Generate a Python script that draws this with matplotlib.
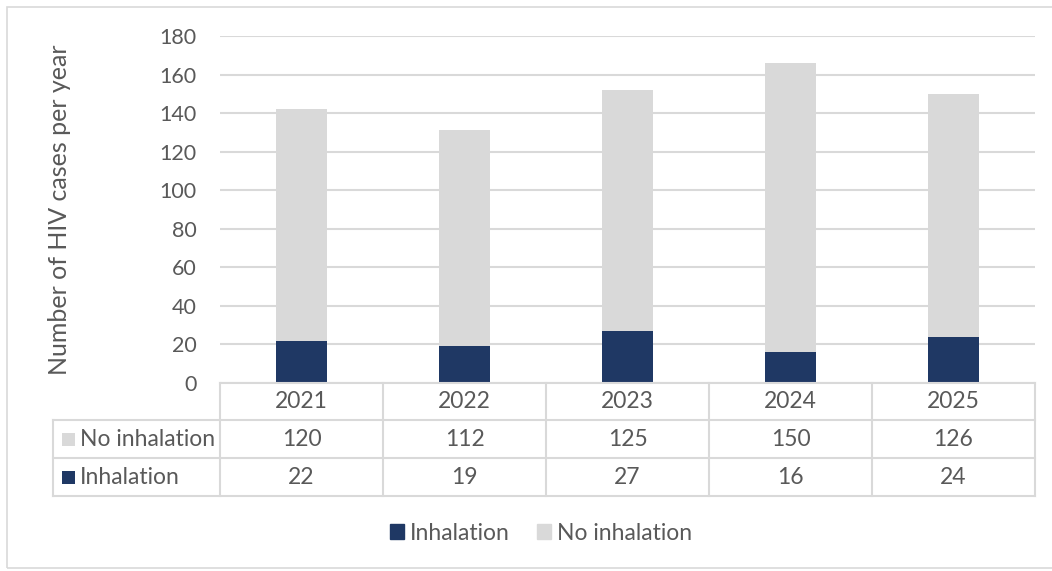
import matplotlib
matplotlib.use("Agg")
import matplotlib.pyplot as plt
from matplotlib.patches import Rectangle
from matplotlib.lines import Line2D

years = ["2021", "2022", "2023", "2024", "2025"]
inhalation = [22, 19, 27, 16, 24]
no_inhalation = [120, 112, 125, 150, 126]
series_names = ["Inhalation", "No inhalation"]
y_ticks = [0, 20, 40, 60, 80, 100, 120, 140, 160, 180]
y_label = "Number of HIV cases per year"

NAVY = "#1F3864"
LIGHT = "#D9D9D9"
GRID = "#D9D9D9"
TEXT = "#595959"
FONT = "Lato"
FS = 16.5

W, H = 1052, 571
fig = plt.figure(figsize=(W / 100, H / 100), dpi=100)
fig.patch.set_facecolor("white")


def fx(px):
    return px / W


def fy(py):
    return 1 - py / H


# outer chart frame
fig.add_artist(Rectangle((fx(7), fy(568)), fx(1060) - fx(7), fy(7) - fy(568),
                         transform=fig.transFigure, fill=False,
                         edgecolor=GRID, linewidth=1.2))

# plot area
x0, x1, ytop, ybot = 220, 1035, 36, 383
ax = fig.add_axes([fx(x0), fy(ybot), fx(x1) - fx(x0), fy(ytop) - fy(ybot)])
n = len(years)
pos = list(range(n))
bw = 51 / ((x1 - x0) / n)
ax.bar(pos, inhalation, width=bw, color=NAVY, zorder=3)
ax.bar(pos, no_inhalation, width=bw, bottom=inhalation, color=LIGHT, zorder=3)
ax.set_xlim(-0.5, n - 0.5)
ax.set_ylim(y_ticks[0], y_ticks[-1])
ax.set_yticks(y_ticks)
ax.set_xticks([])
ax.yaxis.grid(True, color=GRID, linewidth=1.5, zorder=0)
for s in ax.spines.values():
    s.set_visible(False)
ax.tick_params(axis="y", length=0, pad=17, labelsize=15.5, labelcolor=TEXT)
for t in ax.get_yticklabels():
    t.set_fontfamily(FONT)
fig.text(fx(60), fy((ytop + ybot) / 2), y_label, rotation=90, fontsize=18,
         color=TEXT, fontfamily=FONT, ha="center", va="center")

# data table below the axis
row_y = [383, 420, 458, 496]
label_left = 53
col_w = (x1 - x0) / n
lw = 1.5


def hline(y, xa, xb):
    fig.add_artist(Line2D([fx(xa), fx(xb)], [fy(y), fy(y)], color=GRID,
                          linewidth=lw, transform=fig.transFigure))


def vline(x, ya, yb):
    fig.add_artist(Line2D([fx(x), fx(x)], [fy(ya), fy(yb)], color=GRID,
                          linewidth=lw, transform=fig.transFigure))


hline(row_y[0], x0, x1)
for y in row_y[1:]:
    hline(y, label_left, x1)
for i in range(n + 1):
    vline(x0 + i * col_w, row_y[0], row_y[3])
vline(label_left, row_y[1], row_y[3])

tkw = dict(fontsize=FS, color=TEXT, fontfamily=FONT, ha="center",
           va="center", transform=fig.transFigure)
for i, yr in enumerate(years):
    cx = x0 + (i + 0.5) * col_w
    fig.text(fx(cx), fy((row_y[0] + row_y[1]) / 2), yr, **tkw)
    fig.text(fx(cx), fy((row_y[1] + row_y[2]) / 2), str(no_inhalation[i]), **tkw)
    fig.text(fx(cx), fy((row_y[2] + row_y[3]) / 2), str(inhalation[i]), **tkw)

rows = [(series_names[1], LIGHT, row_y[1], row_y[2]),
        (series_names[0], NAVY, row_y[2], row_y[3])]
for name, col, ya, yb in rows:
    cy = (ya + yb) / 2
    fig.add_artist(Rectangle((fx(62), fy(cy + 6.5)), fx(13), fy(0) - fy(13),
                             transform=fig.transFigure, color=col, linewidth=0))
    fig.text(fx(80), fy(cy), name, fontsize=FS, color=TEXT, fontfamily=FONT,
             ha="left", va="center", transform=fig.transFigure)

# legend
handles = [Rectangle((0, 0), 1, 1, color=NAVY), Rectangle((0, 0), 1, 1, color=LIGHT)]
leg = fig.legend(handles, series_names, loc="center", bbox_to_anchor=(fx(541), fy(533)),
                 ncol=2, frameon=False, handlelength=0.6, handleheight=0.6,
                 handletextpad=0.25, columnspacing=1.2,
                 prop={"family": FONT, "size": FS})
for t in leg.get_texts():
    t.set_color(TEXT)

fig.savefig("out.png", dpi=100)
